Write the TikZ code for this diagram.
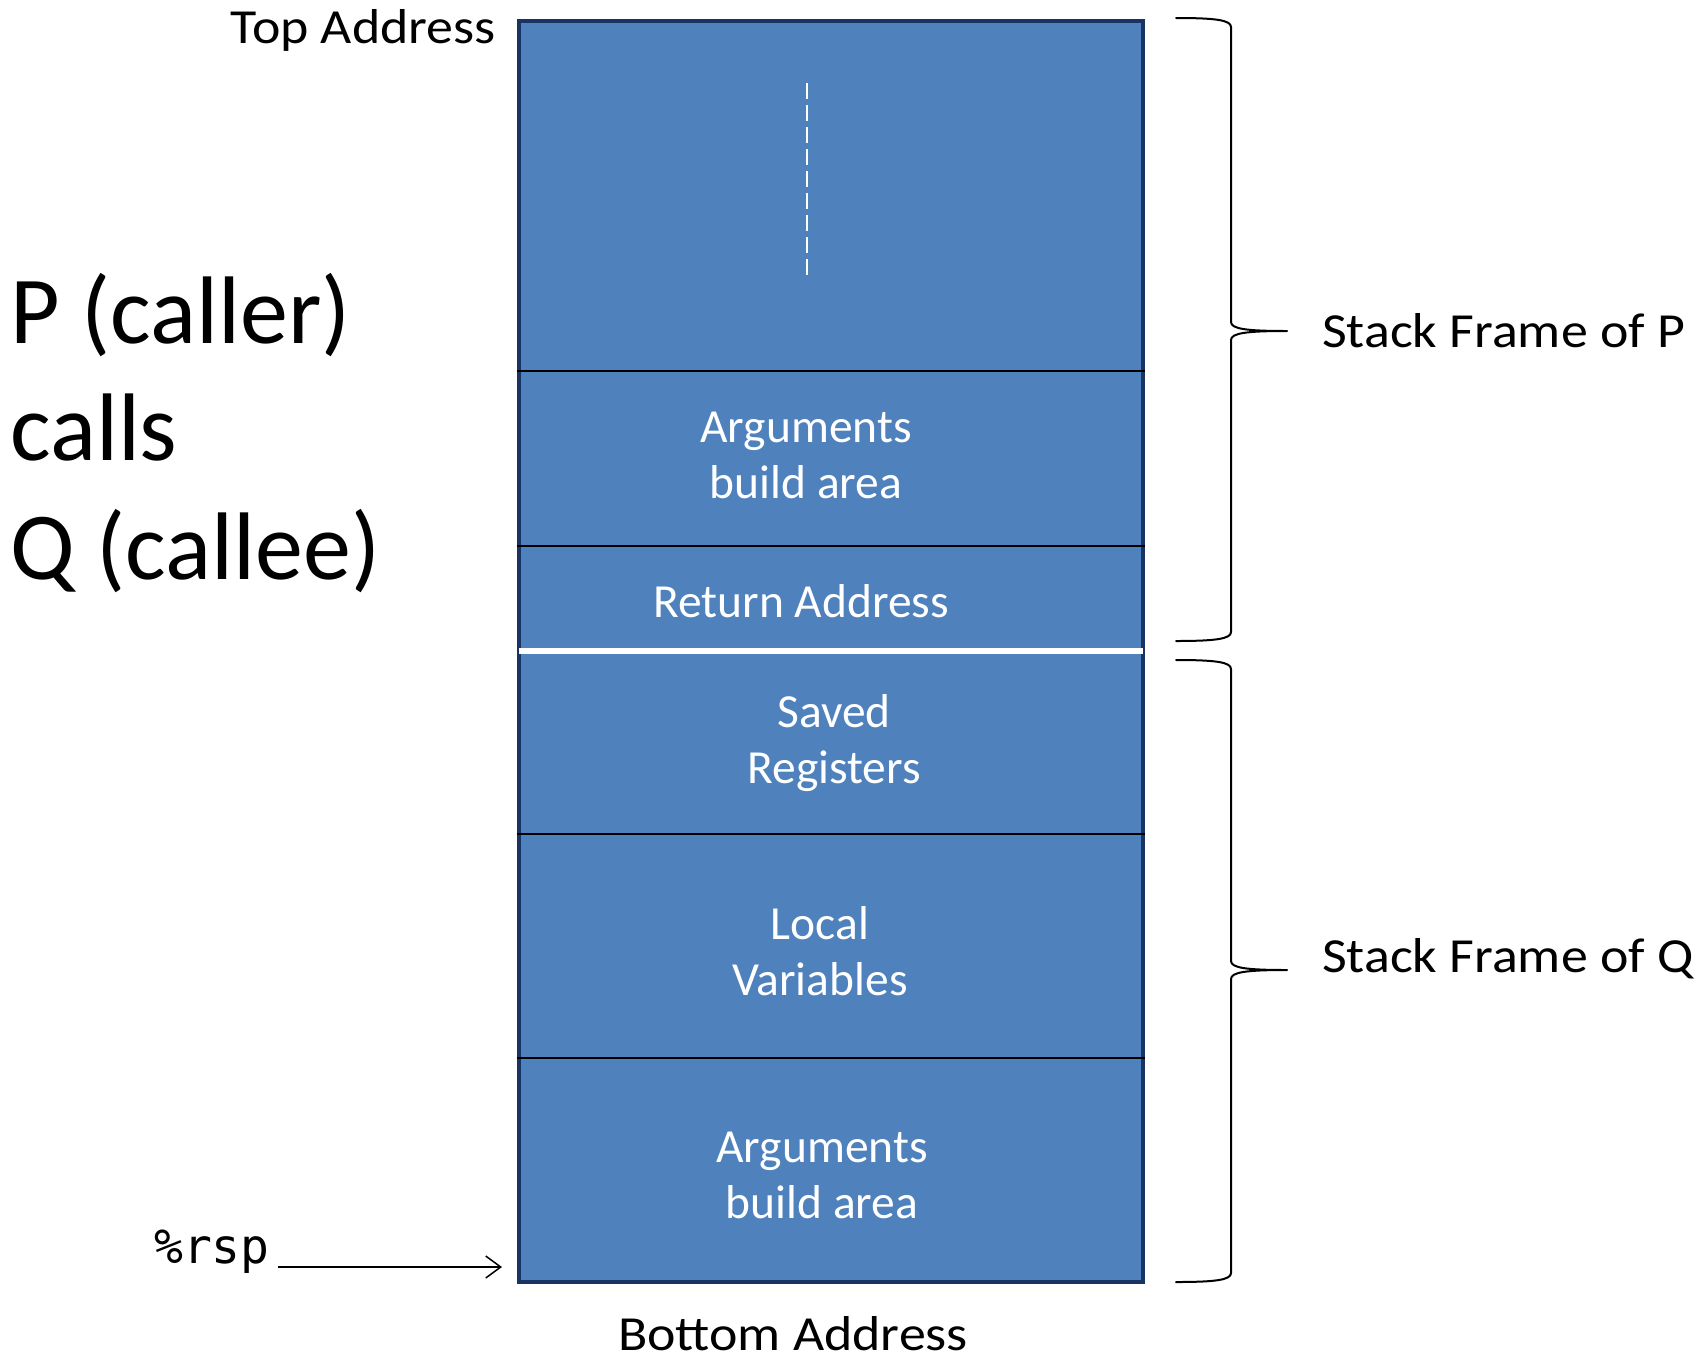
\documentclass[tikz,border=0pt]{standalone}
\usepackage{fontspec}
\setmainfont{Carlito}
\newfontfamily\widefont[FakeStretch=1.1]{Carlito}
\newfontfamily\codefont{DejaVu Sans Mono}
\usetikzlibrary{arrows.meta}
\definecolor{slotfill}{HTML}{4F81BD}
\definecolor{slotedge}{HTML}{1A3365}

% right curly brace spanning top..bottom with its point at mid
\newcommand\framebrace[3]{%
  \draw[brace] (1176,#1) .. controls (1215,#1) and (1231,#1+2) .. (1231,#1+9)
    -- (1231,#2-9) .. controls (1231,#2-2) and (1247,#2) .. (1287,#2)
    .. controls (1247,#2) and (1231,#2+2) .. (1231,#2+9)
    -- (1231,#3-9) .. controls (1231,#3-2) and (1215,#3) .. (1176,#3);}

\begin{document}
\begin{tikzpicture}[x=1pt,y=-1pt,
  lbl/.style={font=\widefont\fontsize{49}{59}\selectfont, inner sep=0pt},
  big/.style={font=\fontsize{96}{115}\selectfont, inner sep=0pt, anchor=base west},
  slottext/.style={font=\fontsize{47.5}{56}\selectfont, text=white, align=center, inner sep=0pt},
  stackbox/.style={draw=slotedge, fill=slotfill, line width=4.5pt, inner sep=0pt},
  divider/.style={line width=2pt, black},
  brace/.style={line width=2pt, line join=round, line cap=round},
]
\useasboundingbox (0,0) rectangle (1696,1360);

% the stack column
\node[stackbox, minimum width=624pt, minimum height=1261pt] (stack) at (831,651.5) {};

% slot boundaries
\draw[divider] (stack.west |- 0,371) -- (stack.east |- 0,371);
\draw[divider] (stack.west |- 0,546) -- (stack.east |- 0,546);
\draw[divider] (stack.west |- 0,834) -- (stack.east |- 0,834);
\draw[divider] (stack.west |- 0,1058) -- (stack.east |- 0,1058);
% boundary between the two frames
\draw[white, line width=6pt] (519,651) -- (1143,651);

% elided upper part of the stack
\draw[white, line width=2pt, dash pattern=on 16pt off 6pt] (807,83) -- (807,275);

% slot contents
\node[slottext] (argsP) at (806,455) {Arguments\\build area};
\node[slottext, anchor=base] (retaddr) at (801,617) {Return Address};
\node[slottext] (saved) at (834,743) {Saved\\Registers};
\node[slottext] (locals) at (820,951) {Local\\Variables};
\node[slottext] (argsQ) at (822,1175) {Arguments\\build area};

% address labels
\node[lbl, anchor=base east] (topaddr) at (496,43) {Top Address};
\node[lbl, anchor=base] (botaddr) at (793,1350) {Bottom Address};

% caller / callee
\node[big] (pcaller) at (10,343) {P (caller)};
\node[big] (calls) at (10,460) {calls};
\node[big] (qcallee) at (10,579) {Q (callee)};

% frame braces
\framebrace{18}{331}{641}
\framebrace{660}{970}{1282}
\node[lbl, anchor=base west] (frameP) at (1322,347) {Stack Frame of P};
\node[lbl, anchor=base west] (frameQ) at (1322,972) {Stack Frame of Q};

% stack pointer
\node[font=\codefont\fontsize{48}{56}\selectfont, anchor=base west, inner sep=0pt] (rsp) at (154,1263) {\%rsp};
\coordinate (rspfrom) at (278,1267);
\coordinate (rsptip) at (502,1267);
\draw[line width=1.5pt, -{Straight Barb[length=15pt,width=22pt]}] (rspfrom) -- (rsptip);
\end{tikzpicture}
\end{document}
